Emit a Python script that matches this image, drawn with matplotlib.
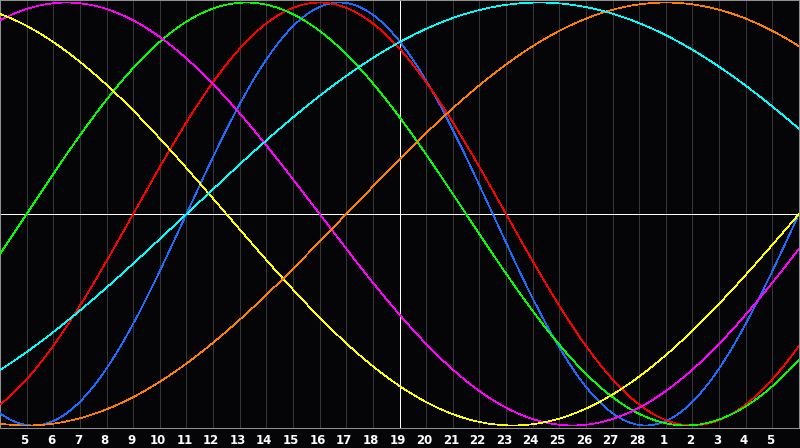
import numpy as np
import matplotlib
matplotlib.use("Agg")
import matplotlib.pyplot as plt
import matplotlib.transforms as mtransforms

# biorhythm cycles (periods in days)
cycle_names = ["physical", "emotional", "intellectual", "intuitive",
               "aesthetic", "awareness", "spiritual"]
periods = [23, 28, 33, 38, 43, 48, 53]
colors = ["#1e6cff", "#ff0000", "#00ff00", "#ff00ff",
          "#ffff00", "#ff8000", "#00ffff"]

# days since birth at the left edge of the chart (4 Feb)
days_at_left = 36563
day_labels = [str(d) for d in range(5, 29)] + [str(d) for d in range(1, 6)]
n_days = 30

bg = "#050508"
fig = plt.figure(figsize=(8, 4.48), dpi=100, facecolor=bg)
ax = fig.add_axes([0, 20 / 448, 799 / 800, 428 / 448])
ax.set_facecolor(bg)

t = np.linspace(0, n_days, 1200)
for p, c in zip(periods, colors):
    ax.plot(t, np.sin(2 * np.pi * (days_at_left + t) / p), color=c,
            lw=0.5, antialiased=False, zorder=3)

for k in range(1, n_days):
    ax.axvline(k, color="#363636", lw=0.5, antialiased=False, zorder=1)
ax.axvline(n_days / 2, color="white", lw=0.6, antialiased=False, zorder=2)
ax.axhline(0, color="white", lw=0.6, antialiased=False, zorder=2)

ax.set_xlim(0, n_days)
ax.set_ylim(-1.012, 1.012)
for s in ax.spines.values():
    s.set_color("#909090")
    s.set_linewidth(0.75)

ax.set_xticks(range(1, n_days))
ax.set_xticklabels(day_labels, color="white", fontsize=8.5,
                   fontweight="bold", family="DejaVu Sans")
ax.tick_params(axis="x", length=0, pad=4)
shift = mtransforms.ScaledTranslation(-2 / 100, 0, fig.dpi_scale_trans)
for lab in ax.get_xticklabels():
    lab.set_transform(lab.get_transform() + shift)
ax.set_yticks([])

fig.savefig("out.png", dpi=100, facecolor=bg)
